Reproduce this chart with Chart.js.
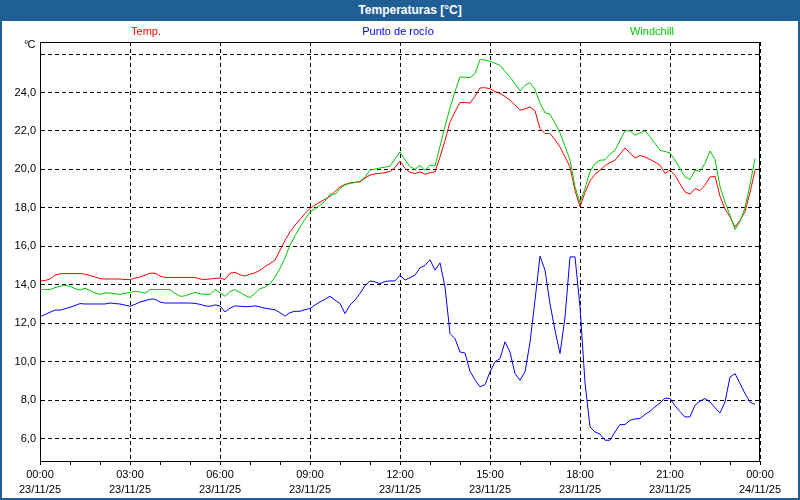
<!DOCTYPE html>
<html lang="es">
<head>
<meta charset="UTF-8">
<title>Temperaturas [°C]</title>
<script src="https://cdn.jsdelivr.net/npm/chart.js@4.4.1/dist/chart.umd.min.js"></script>
<style>
    body {
        margin: 0;
        font-family: "Liberation Sans", Arial, sans-serif;
        background: #fff;
    }
    .frame {
        position: relative;
        width: 800px;
        height: 500px;
        overflow: hidden;
        background: #fff;
    }
    .frame canvas {
        position: absolute;
        left: 0;
        top: 0;
    }
    .titlebar {
        position: absolute;
        left: 0;
        top: 0;
        width: 800px;
        height: 21px;
        background: #1f5f96;
        color: #fff;
        font-weight: bold;
        font-size: 12px;
        line-height: 21px;
        text-align: center;
        box-sizing: border-box;
        padding-left: 20px;
    }
    .edge {
        position: absolute;
        left: 0;
        top: 0;
        width: 800px;
        height: 500px;
        box-sizing: border-box;
        border: 2px solid #1f5f96;
        border-top: none;
        pointer-events: none;
    }
    .leg {
        position: absolute;
        top: 24px;
        font-size: 11px;
        line-height: 14px;
        transform: translateX(-50%);
        white-space: nowrap;
    }
    .unit {
        position: absolute;
        left: 24px;
        top: 38px;
        font-size: 11px;
        letter-spacing: -1px;
    }
</style>
</head>
<body>
<div class="frame">
    <canvas id="chart" width="800" height="500"></canvas>
    <div class="titlebar">Temperaturas [°C]</div>
    <div class="leg" style="left:146px;color:#ff0000">Temp.</div>
    <div class="leg" style="left:398px;color:#0000ff">Punto de rocío</div>
    <div class="leg" style="left:652px;color:#00c800">Windchill</div>
    <div class="unit">°C</div>
    <div class="edge"></div>
</div>

<script>
    // one reading every 10 minutes, 23/11/25 00:00 -> 23:50
    const minutes = Array.from({ length: 144 }, (_, i) => i * 10);

    const temp = [
        14.2, 14.22, 14.3, 14.5, 14.57, 14.58, 14.58, 14.58, 14.58, 14.55, 14.48, 14.4,
        14.32, 14.3, 14.3, 14.3, 14.3, 14.27, 14.27, 14.35, 14.4, 14.5, 14.6, 14.6,
        14.45, 14.38, 14.38, 14.38, 14.38, 14.38, 14.38, 14.38, 14.3, 14.27, 14.3, 14.33,
        14.35, 14.27, 14.6, 14.65, 14.52, 14.45, 14.55, 14.62, 14.75, 14.95, 15.1, 15.28,
        15.8, 16.3, 16.75, 17.1, 17.4, 17.7, 17.97, 18.15, 18.3, 18.45, 18.6, 18.85,
        19.09, 19.22, 19.3, 19.33, 19.35, 19.55, 19.7, 19.77, 19.8, 19.83, 19.9, 20.1,
        20.44, 20.05, 19.85, 19.79, 19.87, 19.75, 19.83, 19.88, 20.65, 21.5, 22.47, 23.0,
        23.48, 23.48, 23.45, 23.8, 24.24, 24.25, 24.2, 24.05, 23.95, 23.8, 23.6, 23.35,
        23.08, 23.15, 23.25, 23.05, 22.13, 21.87, 21.87, 21.55, 21.17, 20.65, 20.13, 18.9,
        18.07, 18.8, 19.4, 19.75, 19.96, 20.2, 20.35, 20.48, 20.8, 21.12, 20.85, 20.6,
        20.72, 20.65, 20.52, 20.38, 20.22, 19.79, 19.96, 19.7, 19.25, 18.83, 18.71, 19.0,
        18.9, 19.18, 19.6, 19.65, 18.6, 17.95, 17.53, 17.0, 17.35, 17.8, 18.8, 19.96
    ];

    const dewPoint = [
        12.33, 12.45, 12.57, 12.68, 12.68, 12.75, 12.83, 12.92, 13.02, 13.0, 13.0, 13.0,
        13.0, 13.0, 13.05, 13.02, 13.0, 12.94, 12.88, 12.98, 13.1, 13.17, 13.25, 13.25,
        13.1, 13.05, 13.05, 13.05, 13.05, 13.05, 13.05, 13.03, 12.98, 12.9, 12.88, 12.95,
        12.9, 12.59, 12.78, 12.9, 12.88, 12.86, 12.87, 12.9, 12.85, 12.78, 12.74, 12.7,
        12.55, 12.37, 12.55, 12.62, 12.62, 12.7, 12.76, 12.95, 13.11, 13.25, 13.4, 13.2,
        13.02, 12.5, 12.94, 13.2, 13.55, 13.95, 14.2, 14.15, 14.06, 14.17, 14.2, 14.2,
        14.5, 14.24, 14.37, 14.5, 14.88, 15.01, 15.3, 14.76, 15.14, 13.89, 11.46, 11.2,
        10.5, 10.45, 9.5, 9.05, 8.69, 8.8, 9.47, 9.99, 10.16, 11.03, 10.5, 9.38,
        9.03, 9.47, 11.0, 13.2, 15.49, 14.76, 13.0, 11.63, 10.42, 12.3, 15.45, 15.45,
        12.85, 8.9, 6.6, 6.34, 6.23, 5.91, 5.91, 6.34, 6.73, 6.73, 6.95, 7.02,
        7.04, 7.25, 7.42, 7.65, 7.85, 8.1, 8.08, 7.7, 7.4, 7.12, 7.13, 7.73,
        7.95, 8.08, 7.9, 7.6, 7.33, 7.9, 9.2, 9.38, 8.86, 8.34, 7.9, 7.77
    ];

    const windchill = [
        13.75, 13.75, 13.75, 13.85, 13.92, 13.97, 13.93, 13.8, 13.72, 13.82, 13.7, 13.58,
        13.5, 13.58, 13.57, 13.53, 13.5, 13.55, 13.6, 13.65, 13.63, 13.56, 13.75, 13.75,
        13.75, 13.75, 13.75, 13.55, 13.4, 13.42, 13.52, 13.6, 13.53, 13.5, 13.5, 13.75,
        13.58, 13.4, 13.65, 13.75, 13.6, 13.45, 13.33, 13.55, 13.8, 13.87, 14.05, 14.4,
        14.85, 15.4, 16.06, 16.55, 17.0, 17.4, 17.79, 17.95, 18.13, 18.35, 18.71, 18.71,
        19.0, 19.2, 19.27, 19.32, 19.38, 19.6, 19.96, 20.02, 20.07, 20.12, 20.17, 20.55,
        20.92, 20.5, 20.15, 20.0, 20.22, 19.95, 20.22, 20.18, 21.2, 22.25, 23.2, 24.05,
        24.81, 24.8, 24.78, 24.99, 25.72, 25.7, 25.62, 25.52, 25.42, 25.1, 24.81, 24.45,
        24.08, 24.38, 24.52, 24.15, 23.45, 22.95, 22.87, 22.4, 21.9, 21.2, 20.48, 19.1,
        18.27, 19.0, 19.9, 20.3, 20.48, 20.5, 20.8, 21.0, 21.5, 22.01, 22.01, 21.78,
        21.9, 22.01, 21.7, 21.35, 21.0, 20.93, 20.86, 20.48, 20.05, 19.61, 19.48, 19.96,
        19.9, 20.31, 20.96, 20.52, 19.1, 18.3, 17.62, 16.87, 17.3, 18.0, 19.2, 20.57
    ];

    // x tick labels every 3 hours
    const xTickTimes = ['00:00', '03:00', '06:00', '09:00', '12:00', '15:00', '18:00', '21:00', '00:00'];
    const xTickDates = ['23/11/25', '23/11/25', '23/11/25', '23/11/25', '23/11/25', '23/11/25', '23/11/25', '23/11/25', '24/11/25'];

    const yMin = 4.83;
    const yMax = 26.63;

    function points(values) {
        return values.map((v, i) => ({ x: minutes[i], y: v }));
    }

    // caja negra alrededor del area del grafico
    const boxPlugin = {
        id: 'box',
        afterDraw(chart) {
            const a = chart.chartArea;
            const c = chart.ctx;
            c.save();
            c.strokeStyle = '#000';
            c.lineWidth = 1;
            c.strokeRect(Math.round(a.left) + 0.5, Math.round(a.top) + 0.5,
                Math.round(a.right - a.left) - 1, Math.round(a.bottom - a.top));
            c.restore();
        }
    };

    const font = { family: '"Liberation Sans", Arial, sans-serif', size: 11 };

    const line = (label, values, color) => ({
        label: label,
        data: points(values),
        borderColor: color,
        borderWidth: 1,
        pointRadius: 0,
        tension: 0,
        fill: false
    });

    new Chart(document.getElementById('chart'), {
        type: 'line',
        data: {
            datasets: [
                line('Windchill', windchill, '#00c800'),
                line('Temp.', temp, '#ff0000'),
                line('Punto de rocío', dewPoint, '#0000ff')
            ]
        },
        options: {
            responsive: false,
            animation: false,
            layout: { padding: { top: 42, right: 40, left: 0, bottom: 0 } },
            plugins: {
                legend: { display: false },
                tooltip: { enabled: false }
            },
            scales: {
                x: {
                    type: 'linear',
                    min: 0,
                    max: 1440,
                    afterFit: s => { s.height = 39; },
                    ticks: {
                        stepSize: 60,
                        autoSkip: false,
                        maxRotation: 0,
                        padding: 2,
                        color: '#000',
                        font: Object.assign({ lineHeight: 1.4 }, font),
                        callback: v => {
                            if (v % 180 !== 0) return '';
                            const k = v / 180;
                            return [xTickTimes[k], xTickDates[k]];
                        }
                    },
                    grid: {
                        color: c => (c.tick && c.tick.value % 180 === 0) ? '#000' : 'rgba(0,0,0,0)',
                        tickColor: '#000',
                        tickLength: 4,
                        lineWidth: 1
                    },
                    border: { color: '#000', dash: [4, 3] }
                },
                y: {
                    min: yMin,
                    max: yMax,
                    afterFit: s => { s.width = 40; },
                    ticks: {
                        stepSize: 2,
                        includeBounds: false,
                        padding: 4,
                        color: '#000',
                        font: font,
                        callback: v => v > 25 ? '' : v.toFixed(1).replace('.', ',')
                    },
                    grid: {
                        color: '#000',
                        drawTicks: false,
                        lineWidth: 1
                    },
                    border: { color: '#000', dash: [4, 3] }
                }
            }
        },
        plugins: [boxPlugin]
    });
</script>
</body>
</html>
